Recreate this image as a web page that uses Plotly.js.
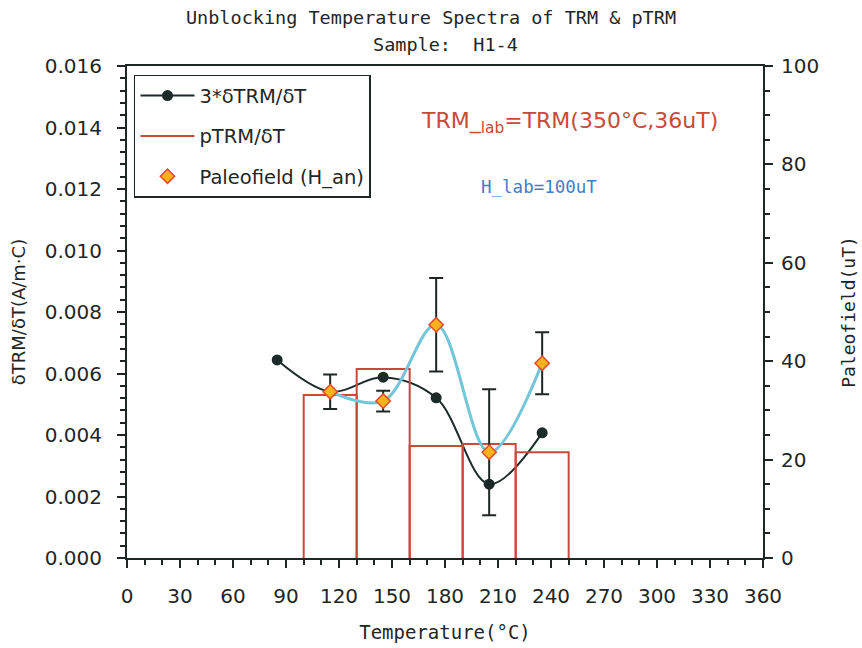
<!DOCTYPE html>
<html>
<head>
<meta charset="utf-8">
<script src="https://cdn.plot.ly/plotly-3.0.1.min.js"></script>
<style>
  html, body { margin: 0; padding: 0; background: #ffffff; }
  #chart { width: 862px; height: 648px; }
</style>
</head>
<body>
<div id="chart"></div>
<script>
// Temperature steps (°C) for the TRM derivative curve
const trmTemps = [85, 115, 145, 175, 205, 235];
// 3*dTRM/dT (A/m·°C)
const trmDeriv = [0.00644, 0.00541, 0.00588, 0.00521, 0.00240, 0.00407];

// pTRM/dT bins: edges (°C) and heights (A/m·°C)
const binEdges = [100, 130, 160, 190, 220, 250];
const ptrmHeights = [0.00530, 0.00615, 0.00364, 0.00371, 0.00344];

// Paleofield estimates (uT) with their errors
const fieldTemps = [115, 145, 175, 205, 235];
const paleofield = [33.8, 31.9, 47.4, 21.5, 39.6];
const fieldErr = [3.5, 2.1, 9.5, 12.8, 6.3];

// Outline of each pTRM bin as a closed step path
const barX = [], barY = [];
for (let i = 0; i < ptrmHeights.length; i++) {
  const x0 = binEdges[i], x1 = binEdges[i + 1], h = ptrmHeights[i];
  barX.push(x0, x0, x1, x1, null);
  barY.push(0, h, h, 0, null);
}

const sans = 'DejaVu Sans, Verdana, sans-serif';
const mono = 'DejaVu Sans Mono, Liberation Mono, monospace';
const ink = '#1f2626';
const red = '#c84a3a';

const traces = [
  {
    x: trmTemps, y: trmDeriv, name: '3*δTRM/δT',
    mode: 'lines+markers', type: 'scatter',
    line: { color: '#1c2a2a', width: 2, shape: 'spline', smoothing: 1 },
    marker: { color: '#1c2a2a', size: 11 },
    legendgroup: 'a'
  },
  {
    x: barX, y: barY, name: 'pTRM/δT',
    mode: 'lines', type: 'scatter',
    line: { color: red, width: 2 },
    legendgroup: 'b'
  },
  {
    x: fieldTemps, y: paleofield, yaxis: 'y2',
    mode: 'lines', type: 'scatter', showlegend: false,
    line: { color: '#72c6d8', width: 3, shape: 'spline', smoothing: 1 }
  },
  {
    x: fieldTemps, y: paleofield, yaxis: 'y2', name: 'Paleofield (H_an)',
    mode: 'markers', type: 'scatter',
    error_y: { type: 'data', array: fieldErr, visible: true, color: ink, thickness: 2, width: 7 },
    marker: { symbol: 'diamond', size: 11, color: '#f8b21c', line: { color: '#e04a2a', width: 1.5 } },
    legendgroup: 'c'
  }
];

const layout = {
  width: 862, height: 648,
  margin: { l: 127, r: 99, t: 66, b: 90 },
  paper_bgcolor: '#ffffff', plot_bgcolor: '#ffffff',
  font: { family: sans, size: 20, color: ink },
  title: {
    text: 'Unblocking Temperature Spectra of TRM & pTRM',
    font: { family: mono, size: 18.5, color: ink },
    x: 0.5, xanchor: 'center', y: 1 - 18 / 648, yanchor: 'middle', yref: 'container'
  },
  showlegend: true,
  legend: {
    x: 0.011, y: 0.982, xanchor: 'left', yanchor: 'top',
    bordercolor: ink, borderwidth: 1.5, bgcolor: '#ffffff',
    font: { family: sans, size: 19.5, color: ink },
    traceorder: 'grouped', tracegroupgap: 12, itemwidth: 54
  },
  xaxis: {
    range: [0, 360], dtick: 30, tick0: 0,
    ticks: 'outside', ticklen: 8, tickwidth: 1.5, tickcolor: ink,
    minor: { dtick: 10, ticks: 'outside', ticklen: 5, tickwidth: 1.5, tickcolor: ink },
    showline: true, linecolor: ink, linewidth: 2, mirror: true,
    showgrid: false, zeroline: false,
    ticklabelstandoff: 11,
    tickfont: { family: sans, size: 20, color: ink },
    title: { text: 'Temperature(°C)', font: { family: mono, size: 19, color: ink }, standoff: 19 }
  },
  yaxis: {
    range: [0, 0.016], dtick: 0.002, tickformat: '.3f',
    ticks: 'outside', ticklen: 8, tickwidth: 1.5, tickcolor: ink,
    minor: { dtick: 0.0004, ticks: 'outside', ticklen: 5, tickwidth: 1.5, tickcolor: ink },
    showline: true, linecolor: ink, linewidth: 2,
    showgrid: false, zeroline: false,
    ticklabelstandoff: 11,
    tickfont: { family: sans, size: 20, color: ink },
    title: { text: 'δTRM/δT(A/m·C)', font: { family: sans, size: 18, color: ink }, standoff: 14 }
  },
  yaxis2: {
    overlaying: 'y', side: 'right', range: [0, 100], dtick: 20,
    ticks: 'outside', ticklen: 8, tickwidth: 1.5, tickcolor: ink,
    minor: { dtick: 5, ticks: 'outside', ticklen: 5, tickwidth: 1.5, tickcolor: ink },
    showline: true, linecolor: ink, linewidth: 2,
    showgrid: false, zeroline: false,
    ticklabelstandoff: 4,
    tickfont: { family: sans, size: 20, color: ink },
    title: { text: 'Paleofield(uT)', font: { family: mono, size: 18, color: ink }, standoff: 24 }
  },
  annotations: [
    {
      text: 'Sample:  H1-4',
      xref: 'paper', yref: 'paper', x: 0.5, y: (558 - 45) / 492,
      showarrow: false, xanchor: 'center', yanchor: 'middle',
      font: { family: mono, size: 18.5, color: ink }
    },
    {
      text: 'TRM_<sub>lab</sub>=TRM(350°C,36uT)',
      xref: 'paper', yref: 'paper', x: 0.695, y: 0.886,
      showarrow: false, xanchor: 'center', yanchor: 'middle',
      font: { family: sans, size: 22, color: red }
    },
    {
      text: 'H_lab=100uT',
      xref: 'paper', yref: 'paper', x: 0.648, y: 0.754,
      showarrow: false, xanchor: 'center', yanchor: 'middle',
      font: { family: mono, size: 17.5, color: '#3f80c8' }
    }
  ]
};

Plotly.newPlot('chart', traces, layout, { displayModeBar: false, responsive: false });
</script>
</body>
</html>
